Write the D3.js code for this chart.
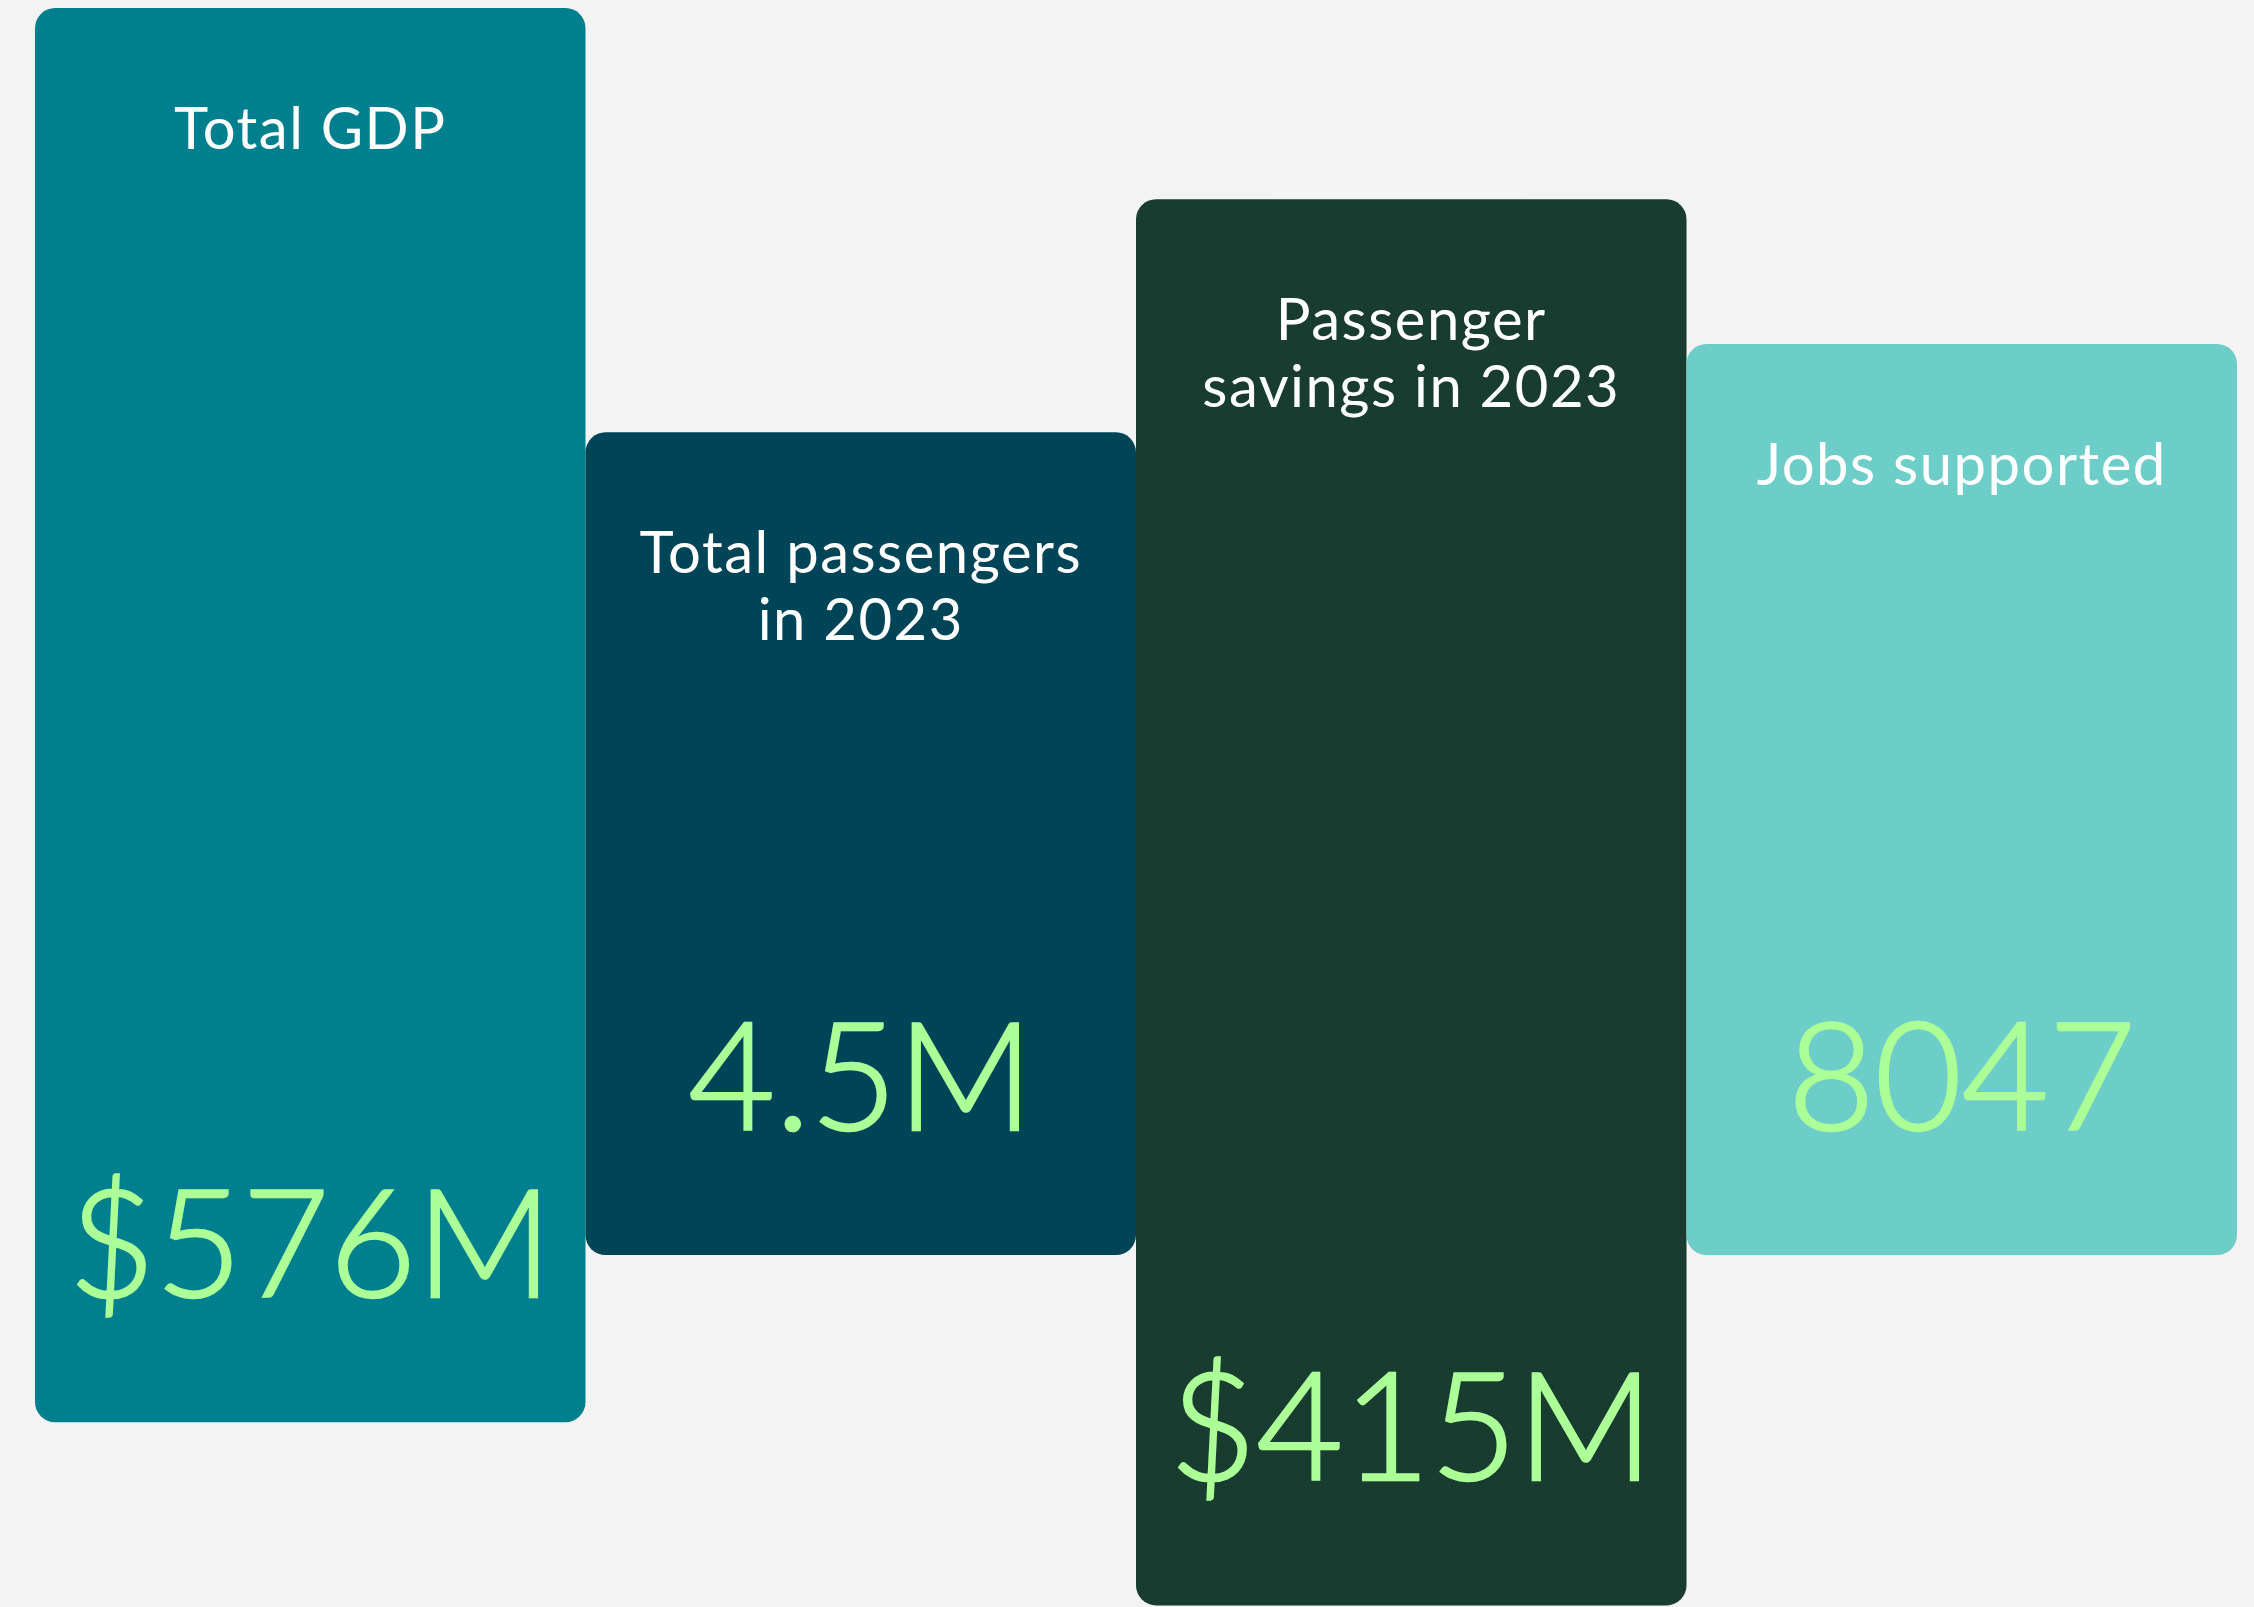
<!DOCTYPE html>
<html>
<head>
<meta charset="utf-8">
<script src="https://cdn.jsdelivr.net/npm/d3@7"></script>
<style>
  html, body { margin: 0; padding: 0; background: #f3f3f3; }
  svg { display: block; }
</style>
</head>
<body>
<svg id="chart" width="2254" height="1607"></svg>
<script>
// ---- data ----
const categories = ["Total GDP", "Total passengers in 2023", "Passenger savings in 2023", "Jobs supported"];
const labelLines = [["Total GDP"], ["Total passengers", "in 2023"], ["Passenger", "savings in 2023"], ["Jobs supported"]];
const valueLabels = ["$576M", "4.5M", "$415M", "8047"];
const barStart = [0.5, 26.9, 12.4, 21.4];   // top of each card (0–100 scale)
const barEnd   = [88.5, 78.1, 99.9, 78.1];  // bottom of each card (0–100 scale)
const colors = ["#00808e", "#004557", "#183c30", "#6dcdc9"];

// ---- layout ----
const W = 2254, H = 1607;
const svg = d3.select("#chart");
svg.append("rect").attr("width", W).attr("height", H).attr("fill", "#f3f3f3");

const x = d3.scaleBand().domain(categories).range([35, 2237]).padding(0);
const y = d3.scaleLinear().domain([0, 100]).range([0, H]);

const data = categories.map((c, i) => ({
  cat: c, lines: labelLines[i], value: valueLabels[i],
  start: barStart[i], end: barEnd[i], color: colors[i]
}));

const g = svg.selectAll("g.card").data(data).join("g").attr("class", "card");

g.append("rect")
  .attr("x", d => x(d.cat))
  .attr("y", d => y(d.start))
  .attr("width", x.bandwidth())
  .attr("height", d => y(d.end) - y(d.start))
  .attr("rx", 20).attr("ry", 20)
  .attr("fill", d => d.color);

g.append("text")
  .attr("text-anchor", "middle")
  .attr("font-family", "Lato, 'Open Sans', sans-serif")
  .attr("font-size", 58)
  .attr("letter-spacing", "1.5px")
  .attr("fill", "#ffffff")
  .selectAll("tspan").data(d => d.lines.map(l => ({ l, d })))
  .join("tspan")
  .attr("x", o => x(o.d.cat) + x.bandwidth() / 2)
  .attr("y", (o, j) => y(o.d.start) + 141 + j * 67)
  .text(o => o.l);

g.append("text")
  .attr("text-anchor", "middle")
  .attr("font-family", "Lato, 'Open Sans', sans-serif")
  .attr("font-weight", 300)
  .attr("font-size", 150)
  .attr("fill", "#acff96")
  .attr("stroke", "#acff96")
  .attr("stroke-width", 2.5)
  .attr("x", d => x(d.cat) + x.bandwidth() / 2)
  .attr("y", d => y(d.end) - 125)
  .text(d => d.value);
</script>
</body>
</html>
